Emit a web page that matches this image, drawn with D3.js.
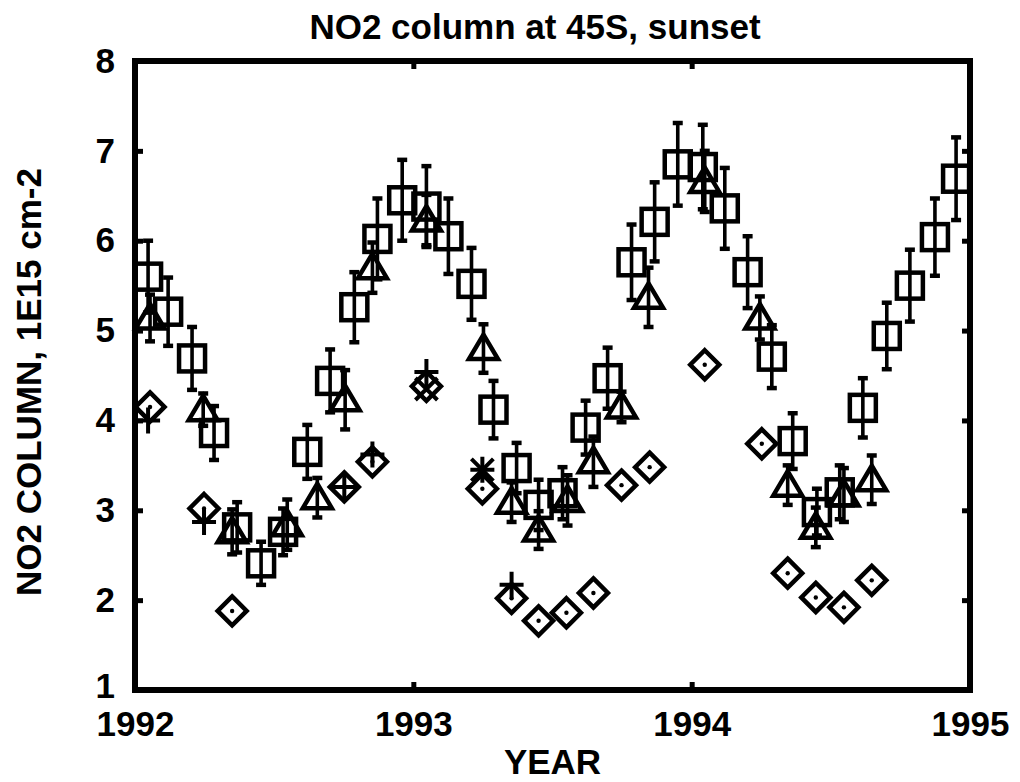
<!DOCTYPE html>
<html>
<head>
<meta charset="utf-8">
<script src="https://cdn.jsdelivr.net/npm/d3@7"></script>
<style>
  html, body { margin: 0; padding: 0; background: #fff; }
  text { font-family: "Liberation Sans", Arial, Helvetica, sans-serif; font-weight: bold; fill: #000; }
</style>
</head>
<body>
<svg id="chart" width="1020" height="782"></svg>
<script>
// ---------------- data ----------------
const chartTitle = "NO2 column at 45S, sunset";
const xTitle = "YEAR";
const yTitle = "NO2 COLUMN, 1E15 cm-2";
const xTickValues = [1992, 1993, 1994, 1995];
const yTickValues = [1, 2, 3, 4, 5, 6, 7, 8];

// open squares with error bars
const squareYears = [1992.047, 1992.119, 1992.205, 1992.284, 1992.367, 1992.453, 1992.532, 1992.619, 1992.701, 1992.788, 1992.871, 1992.960,
                     1993.047, 1993.126, 1993.209, 1993.288, 1993.371, 1993.450, 1993.536, 1993.619, 1993.698, 1993.784, 1993.867, 1993.950,
                     1994.040, 1994.119, 1994.201, 1994.288, 1994.363, 1994.450, 1994.532, 1994.615, 1994.701, 1994.784, 1994.874, 1994.950];
const squareValues = [5.60, 5.21, 4.69, 3.86, 2.81, 2.41, 2.76, 3.65, 4.44, 5.26, 6.02, 6.45,
                      6.38, 6.05, 5.52, 4.12, 3.47, 3.06, 3.19, 3.92, 4.47, 5.76, 6.21, 6.85,
                      6.82, 6.36, 5.65, 4.71, 3.77, 2.98, 3.20, 4.14, 4.94, 5.50, 6.04, 6.69];
const squareErrors = [0.40, 0.38, 0.35, 0.30, 0.28, 0.24, 0.26, 0.30, 0.35, 0.39, 0.45, 0.45,
                      0.45, 0.42, 0.40, 0.32, 0.28, 0.28, 0.29, 0.30, 0.34, 0.42, 0.44, 0.46,
                      0.47, 0.45, 0.40, 0.35, 0.31, 0.26, 0.30, 0.33, 0.37, 0.40, 0.43, 0.46];

// open triangles with error bars
const triangleYears = [1992.054, 1992.245, 1992.349, 1992.547, 1992.655, 1992.755, 1992.853,
                       1993.047, 1993.252, 1993.353, 1993.450, 1993.554, 1993.647, 1993.748, 1993.845,
                       1994.047, 1994.245, 1994.345, 1994.446, 1994.547, 1994.647];
const triangleValues = [5.14, 4.12, 2.76, 2.84, 3.14, 4.23, 5.70,
                        6.23, 4.80, 3.09, 2.78, 3.11, 3.54, 4.15, 5.37,
                        6.66, 5.14, 3.28, 2.81, 3.17, 3.34];
const triangleErrors = [0.26, 0.18, 0.25, 0.28, 0.22, 0.33, 0.28,
                        0.28, 0.27, 0.22, 0.21, 0.28, 0.28, 0.17, 0.33,
                        0.34, 0.24, 0.22, 0.22, 0.30, 0.27];

// open diamonds with a centre dot
const diamondYears = [1992.054, 1992.248, 1992.349, 1992.752, 1992.853,
                      1993.047, 1993.248, 1993.353, 1993.450, 1993.550, 1993.647, 1993.748, 1993.849,
                      1994.047, 1994.252, 1994.345, 1994.446, 1994.547, 1994.647];
const diamondValues = [4.15, 3.02, 1.88, 3.26, 3.54,
                       4.38, 3.24, 2.02, 1.77, 1.86, 2.08, 3.28, 3.48,
                       4.62, 3.74, 2.30, 2.03, 1.92, 2.22];

// plus signs
const plusYears = [1992.047, 1992.248, 1992.752, 1992.853, 1993.047, 1993.248, 1993.353];
const plusValues = [4.00, 2.87, 3.26, 3.62, 4.54, 3.45, 2.17];

// crosses
const crossYears = [1993.047, 1993.248];
const crossValues = [4.35, 3.45];

// ---------------- layout ----------------
const svg = d3.select("#chart");
const pLeft = 135, pRight = 970, pTop = 61, pBottom = 690;
const x = d3.scaleLinear().domain([1992, 1995]).range([pLeft, pRight]);
const y = d3.scaleLinear().domain([1, 8]).range([pBottom, pTop]);

const FS = 35;

// axes (ticks inward)
const gB = svg.append("g").attr("transform", `translate(0,${pBottom})`)
  .call(d3.axisBottom(x).tickValues(xTickValues).tickFormat(d3.format("d")).tickSize(-8).tickPadding(21));
const gL = svg.append("g").attr("transform", `translate(${pLeft},0)`)
  .call(d3.axisLeft(y).tickValues(yTickValues).tickFormat(d3.format("d")).tickSize(-8).tickPadding(20));
const gT = svg.append("g").attr("transform", `translate(0,${pTop})`)
  .call(d3.axisTop(x).tickValues(xTickValues).tickFormat("").tickSize(-8));
const gR = svg.append("g").attr("transform", `translate(${pRight},0)`)
  .call(d3.axisRight(y).tickValues(yTickValues).tickFormat("").tickSize(-8));
[gB, gL, gT, gR].forEach(g => {
  g.select(".domain").remove();
  g.selectAll(".tick line").attr("stroke", "#000").attr("stroke-width", 5);
  g.selectAll(".tick text").style("font-size", FS + "px").attr("font-family", null);
});
gB.selectAll(".tick text").attr("dy", "0.71em");
gL.selectAll(".tick text").filter(d => d === 1).attr("dy", "0.2em");

// frame
svg.append("rect").attr("x", pLeft).attr("y", pTop)
  .attr("width", pRight - pLeft).attr("height", pBottom - pTop)
  .attr("fill", "none").attr("stroke", "#000").attr("stroke-width", 6);

// titles
svg.append("text").attr("x", 535).attr("y", 39).attr("text-anchor", "middle")
  .style("font-size", FS + "px").text(chartTitle);
svg.append("text").attr("x", (pLeft + pRight) / 2).attr("y", 774).attr("text-anchor", "middle")
  .style("font-size", FS + "px").text(xTitle);
svg.append("text").attr("transform", `translate(41,382) rotate(-90)`).attr("text-anchor", "middle")
  .style("font-size", FS + "px").text(yTitle);

// error bar helper
function errorBars(g, yrs, vals, errs) {
  const data = yrs.map((t, i) => ({ t, v: vals[i], e: errs[i] }));
  const eb = g.append("g").selectAll("g").data(data).join("g");
  eb.append("line")
    .attr("x1", d => x(d.t)).attr("x2", d => x(d.t))
    .attr("y1", d => y(d.v + d.e)).attr("y2", d => y(d.v - d.e))
    .attr("stroke", "#000").attr("stroke-width", 3.6);
  ["+", "-"].forEach(s => {
    eb.append("line")
      .attr("x1", d => x(d.t) - 5).attr("x2", d => x(d.t) + 5)
      .attr("y1", d => y(s === "+" ? d.v + d.e : d.v - d.e))
      .attr("y2", d => y(s === "+" ? d.v + d.e : d.v - d.e))
      .attr("stroke", "#000").attr("stroke-width", 4.5);
  });
}

const plot = svg.append("g");

// diamonds
const dData = diamondYears.map((t, i) => ({ t, v: diamondValues[i] }));
const dG = plot.append("g").selectAll("g").data(dData).join("g")
  .attr("transform", d => `translate(${x(d.t)},${y(d.v)})`);
dG.append("path").attr("d", "M0,-14.5L14.5,0L0,14.5L-14.5,0Z")
  .attr("fill", "none").attr("stroke", "#000").attr("stroke-width", 4.5);
dG.append("circle").attr("r", 2.2).attr("fill", "#000");

// squares
errorBars(plot, squareYears, squareValues, squareErrors);
const sData = squareYears.map((t, i) => ({ t, v: squareValues[i] }));
plot.append("g").selectAll("rect").data(sData).join("rect")
  .attr("x", d => x(d.t) - 13).attr("y", d => y(d.v) - 13)
  .attr("width", 26).attr("height", 26)
  .attr("fill", "none").attr("stroke", "#000").attr("stroke-width", 4.5);

// triangles
errorBars(plot, triangleYears, triangleValues, triangleErrors);
const tData = triangleYears.map((t, i) => ({ t, v: triangleValues[i] }));
plot.append("g").selectAll("path").data(tData).join("path")
  .attr("transform", d => `translate(${x(d.t)},${y(d.v)})`)
  .attr("d", "M0,-14L14.5,10.5L-14.5,10.5Z")
  .attr("fill", "none").attr("stroke", "#000").attr("stroke-width", 4.5).attr("stroke-linejoin", "miter");

// plus signs
const pData = plusYears.map((t, i) => ({ t, v: plusValues[i] }));
plot.append("g").selectAll("path").data(pData).join("path")
  .attr("transform", d => `translate(${x(d.t)},${y(d.v)})`)
  .attr("d", "M-12,0H12M0,-13V13")
  .attr("fill", "none").attr("stroke", "#000").attr("stroke-width", 4);

// crosses
const cData = crossYears.map((t, i) => ({ t, v: crossValues[i] }));
plot.append("g").selectAll("path").data(cData).join("path")
  .attr("transform", d => `translate(${x(d.t)},${y(d.v)})`)
  .attr("d", "M-11,-11L11,11M11,-11L-11,11")
  .attr("fill", "none").attr("stroke", "#000").attr("stroke-width", 4);
</script>
</body>
</html>
